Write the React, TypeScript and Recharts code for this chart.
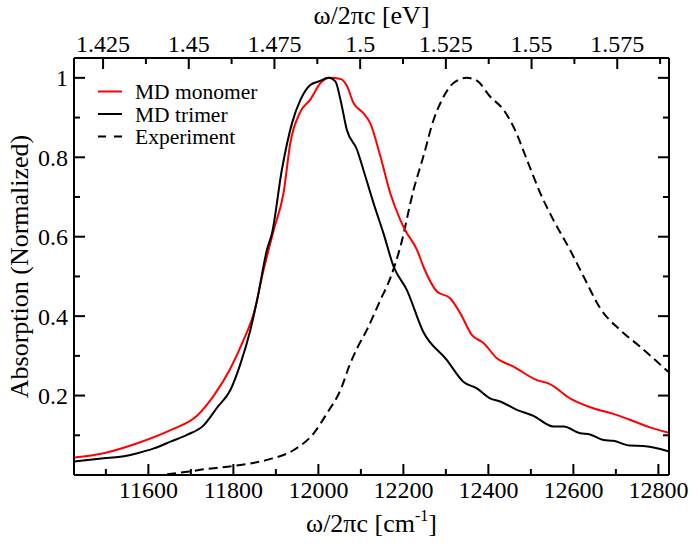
import React from 'react';
import { LineChart, Line, XAxis, YAxis, Legend } from 'recharts';

const FONT = '"Liberation Serif", "Times New Roman", Times, serif';

// MD monomer (red)
const monomerCm = [11425, 11495, 11574, 11652, 11715, 11754, 11793, 11824, 11848, 11871, 11895, 11918, 11934, 11958, 11981, 12005, 12028, 12052, 12067, 12083, 12106, 12122, 12146, 12169, 12193, 12204, 12232, 12247, 12279, 12310, 12334, 12361, 12389, 12420, 12459, 12514, 12545, 12592, 12647, 12694, 12733, 12780, 12823];
const monomerAbs = [0.044, 0.055, 0.080, 0.113, 0.150, 0.200, 0.268, 0.340, 0.407, 0.516, 0.617, 0.710, 0.836, 0.915, 0.945, 0.987, 1.0, 0.997, 0.98, 0.936, 0.911, 0.886, 0.802, 0.710, 0.642, 0.617, 0.567, 0.525, 0.462, 0.445, 0.407, 0.353, 0.332, 0.294, 0.273, 0.239, 0.229, 0.193, 0.168, 0.154, 0.139, 0.120, 0.107];

// MD trimer (black)
const trimerCm = [11425, 11495, 11534, 11574, 11613, 11652, 11691, 11730, 11762, 11793, 11817, 11840, 11856, 11879, 11891, 11914, 11938, 11958, 11981, 12001, 12024, 12040, 12052, 12067, 12091, 12106, 12130, 12153, 12177, 12208, 12247, 12302, 12341, 12373, 12404, 12428, 12467, 12506, 12553, 12577, 12616, 12639, 12671, 12694, 12733, 12764, 12823];
const trimerAbs = [0.034, 0.042, 0.046, 0.055, 0.067, 0.084, 0.101, 0.125, 0.170, 0.214, 0.281, 0.365, 0.441, 0.567, 0.609, 0.768, 0.886, 0.945, 0.982, 0.991, 1.0, 0.991, 0.945, 0.869, 0.819, 0.768, 0.684, 0.609, 0.525, 0.466, 0.360, 0.290, 0.235, 0.218, 0.193, 0.185, 0.164, 0.149, 0.122, 0.122, 0.105, 0.102, 0.088, 0.086, 0.074, 0.073, 0.060];

// Experiment (dashed)
const exptCm = [11644, 11691, 11722, 11801, 11879, 11942, 11989, 12020, 12052, 12075, 12091, 12114, 12146, 12169, 12193, 12224, 12247, 12271, 12291, 12318, 12349, 12373, 12404, 12436, 12459, 12491, 12522, 12553, 12592, 12624, 12663, 12710, 12757, 12823];
const exptAbs = [0.002, 0.008, 0.013, 0.023, 0.038, 0.063, 0.105, 0.155, 0.214, 0.281, 0.319, 0.365, 0.441, 0.495, 0.575, 0.718, 0.802, 0.894, 0.945, 0.987, 1.0, 0.993, 0.953, 0.919, 0.877, 0.793, 0.710, 0.642, 0.567, 0.5, 0.420, 0.365, 0.323, 0.260];

const seriesNames = ['MD monomer', 'MD trimer', 'Experiment'];
const seriesColors = ['#ff0000', '#000000', '#000000'];
const seriesDash = ['', '', '8 8'];

const cmDomain = [11425, 12825];
const cmPerEv = 8065.54;
const evDomain = [cmDomain[0] / cmPerEv, cmDomain[1] / cmPerEv];
const cmTicks = [11500, 11600, 11700, 11800, 11900, 12000, 12100, 12200, 12300, 12400, 12500, 12600, 12700, 12800];
const evTicks = [1.425, 1.4375, 1.45, 1.4625, 1.475, 1.4875, 1.5, 1.5125, 1.525, 1.5375, 1.55, 1.5625, 1.575, 1.5875];
const yTicks = [0.1, 0.2, 0.3, 0.4, 0.5, 0.6, 0.7, 0.8, 0.9, 1.0];
const yDomain = [0, 1.05];

const toRows = (xs: number[], ys: number[]) => xs.map((x, i) => ({ x, y: ys[i] }));
const monomerData = toRows(monomerCm, monomerAbs);
const trimerData = toRows(trimerCm, trimerAbs);
const exptData = toRows(exptCm, exptAbs);
// carrier rows for the top (eV) axis; they have no y value, so nothing is drawn
const evAxisData = evTicks.map((ev) => ({ ev }));

const MAJOR = 11;
const MINOR = 6;

const BottomTick = (props: any) => {
  const { x, y, payload } = props;
  const v = payload.value;
  const major = Math.round(v) % 200 === 0;
  return (
    <g>
      <line x1={x} y1={y} x2={x} y2={y - (major ? MAJOR : MINOR)} stroke="#000" strokeWidth={2} />
      {major && (
        <text x={x} y={y + 23} textAnchor="middle" fontSize={24} fontFamily={FONT} fill="#000">
          {v}
        </text>
      )}
    </g>
  );
};

const TopTick = (props: any) => {
  const { x, y, payload } = props;
  const v = payload.value;
  const major = Math.abs(Math.round(v / 0.025) * 0.025 - v) < 1e-6;
  return (
    <g>
      <line x1={x} y1={y} x2={x} y2={y + (major ? MAJOR : MINOR)} stroke="#000" strokeWidth={2} />
      {major && (
        <text x={x} y={y - 6} textAnchor="middle" fontSize={24} fontFamily={FONT} fill="#000">
          {String(parseFloat(v.toFixed(4)))}
        </text>
      )}
    </g>
  );
};

const LeftTick = (props: any) => {
  const { x, y, payload } = props;
  const v = payload.value;
  const major = Math.round(v * 10) % 2 === 0;
  return (
    <g>
      <line x1={x} y1={y} x2={x + (major ? MAJOR : MINOR)} y2={y} stroke="#000" strokeWidth={2} />
      {major && (
        <text x={x - 6} y={y} dy="0.35em" textAnchor="end" fontSize={24} fontFamily={FONT} fill="#000">
          {String(parseFloat(v.toFixed(2)))}
        </text>
      )}
    </g>
  );
};

const RightTick = (props: any) => {
  const { x, y, payload } = props;
  const v = payload.value;
  const major = Math.round(v * 10) % 2 === 0;
  return (
    <g>
      <line x1={x} y1={y} x2={x - (major ? MAJOR : MINOR)} y2={y} stroke="#000" strokeWidth={2} />
    </g>
  );
};

const LegendBox = () => (
  <svg width={200} height={75} style={{ overflow: 'visible', display: 'block' }}>
    {seriesNames.map((name, i) => (
      <g key={name}>
        <line
          x1={8}
          x2={32}
          y1={13.5 + i * 22.5}
          y2={13.5 + i * 22.5}
          stroke={seriesColors[i]}
          strokeWidth={2}
          strokeDasharray={seriesDash[i] || undefined}
        />
        <text x={45} y={13.5 + i * 22.5} dy="0.35em" fontSize={21.5} fontFamily={FONT} fill="#000">
          {name}
        </text>
      </g>
    ))}
  </svg>
);

export default function App() {
  return (
    <div style={{ position: 'absolute', left: 0, top: 0, background: '#fff', fontFamily: FONT }}>
      <LineChart width={699} height={545} margin={{ top: 0, right: 0, bottom: 0, left: 0 }}>
        <XAxis
          xAxisId="bottom"
          dataKey="x"
          type="number"
          orientation="bottom"
          domain={cmDomain}
          allowDataOverflow
          ticks={cmTicks}
          interval={0}
          height={70}
          tickSize={0}
          tickMargin={0}
          tickLine={false}
          tick={BottomTick}
          axisLine={{ stroke: '#000', strokeWidth: 2 }}
          label={(p: any) => {
            const vb = p.viewBox;
            return (
              <text x={vb.x + vb.width / 2} y={vb.y + 57} textAnchor="middle" fontSize={26} fontFamily={FONT} fill="#000">
                ω/2πc [cm<tspan dy={-11} fontSize={16}>-1</tspan>
                <tspan dy={11}>]</tspan>
              </text>
            );
          }}
        />
        <XAxis
          xAxisId="top"
          dataKey="ev"
          type="number"
          orientation="top"
          domain={evDomain}
          allowDataOverflow
          ticks={evTicks}
          interval={0}
          height={58}
          tickSize={0}
          tickMargin={0}
          tickLine={false}
          tick={TopTick}
          axisLine={{ stroke: '#000', strokeWidth: 2 }}
          label={(p: any) => {
            const vb = p.viewBox;
            return (
              <text x={vb.x + vb.width / 2} y={24} textAnchor="middle" fontSize={26} fontFamily={FONT} fill="#000">
                ω/2πc [eV]
              </text>
            );
          }}
        />
        <YAxis
          yAxisId="left"
          type="number"
          domain={yDomain}
          allowDataOverflow
          ticks={yTicks}
          interval={0}
          width={74}
          tickSize={0}
          tickMargin={0}
          tickLine={false}
          tick={LeftTick}
          axisLine={{ stroke: '#000', strokeWidth: 2 }}
          label={(p: any) => {
            const vb = p.viewBox;
            const cy = vb.y + vb.height / 2;
            return (
              <text
                x={28}
                y={cy}
                transform={`rotate(-90, 28, ${cy})`}
                textAnchor="middle"
                fontSize={26}
                fontFamily={FONT}
                fill="#000"
              >
                Absorption (Normalized)
              </text>
            );
          }}
        />
        <YAxis
          yAxisId="right"
          orientation="right"
          type="number"
          domain={yDomain}
          allowDataOverflow
          ticks={yTicks}
          interval={0}
          width={30}
          tickSize={0}
          tickMargin={0}
          tickLine={false}
          tick={RightTick}
          axisLine={{ stroke: '#000', strokeWidth: 2 }}
        />
        <Legend
          layout="vertical"
          align="center"
          verticalAlign="middle"
          wrapperStyle={{ left: 90, top: 78, width: 200, height: 75 }}
          content={() => <LegendBox />}
        />
        <Line
          xAxisId="top"
          yAxisId="right"
          data={evAxisData}
          dataKey="none"
          stroke="none"
          legendType="none"
          dot={false}
          activeDot={false}
          isAnimationActive={false}
        />
        <Line
          xAxisId="bottom"
          yAxisId="left"
          data={exptData}
          dataKey="y"
          name={seriesNames[2]}
          type="monotone"
          stroke={seriesColors[2]}
          strokeWidth={2}
          strokeDasharray="9 5"
          dot={false}
          activeDot={false}
          isAnimationActive={false}
        />
        <Line
          xAxisId="bottom"
          yAxisId="left"
          data={monomerData}
          dataKey="y"
          name={seriesNames[0]}
          type="monotone"
          stroke={seriesColors[0]}
          strokeWidth={2}
          dot={false}
          activeDot={false}
          isAnimationActive={false}
        />
        <Line
          xAxisId="bottom"
          yAxisId="left"
          data={trimerData}
          dataKey="y"
          name={seriesNames[1]}
          type="monotone"
          stroke={seriesColors[1]}
          strokeWidth={2}
          dot={false}
          activeDot={false}
          isAnimationActive={false}
        />
      </LineChart>
    </div>
  );
}
